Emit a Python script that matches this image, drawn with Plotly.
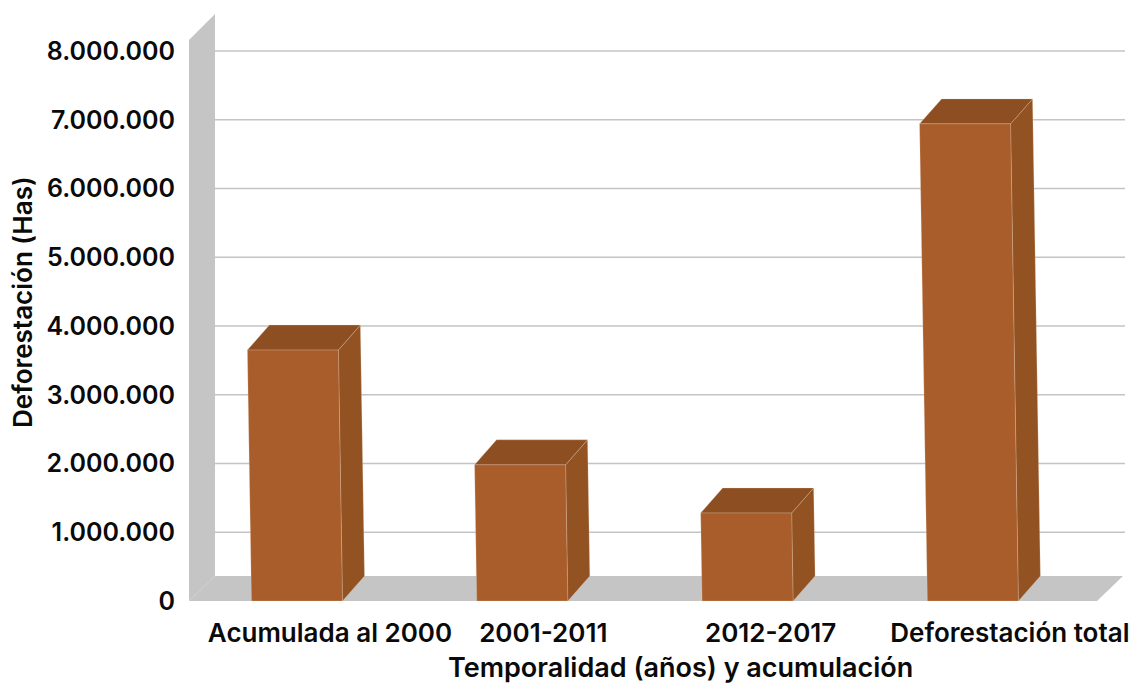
import plotly.graph_objects as go

categories = ["Acumulada al 2000", "2001-2011", "2012-2017", "Deforestación total"]
values = [3650000, 1980000, 1280000, 6940000]
y_ticks = [0, 1000000, 2000000, 3000000, 4000000, 5000000, 6000000, 7000000, 8000000]
y_labels = ["0", "1.000.000", "2.000.000", "3.000.000", "4.000.000", "5.000.000", "6.000.000", "7.000.000", "8.000.000"]

FRONT, SIDE, TOP = "#A85D2A", "#925222", "#8D4F21"
WALL, GRID = "#C5C5C5", "#C4C4C4"
EDGE = "rgba(240,215,195,0.25)"
FONT = "Inter"
WEIGHT = 600
INK = "#0A0A0A"

W, H = 1135, 684
L, R, T, B = 189, 10, 10, 83
PX_PER_CAT = 225.3
PX_PER_UNIT = 68.75 / 1e6
X0_PX = 297 - L
XMIN = -X0_PX / PX_PER_CAT
XMAX = XMIN + (W - L - R) / PX_PER_CAT
YMAX = (H - B - T) / PX_PER_UNIT


def dx(px):
    return px / PX_PER_CAT


def dy(px):
    return px / PX_PER_UNIT


def poly(xs, ys, color, edge=None):
    return go.Scatter(
        x=xs + xs[:1], y=ys + ys[:1], mode="lines", fill="toself", fillcolor=color,
        line=dict(color=edge or color, width=1 if edge else 0),
        hoverinfo="skip", showlegend=False,
    )


fig = go.Figure()

# Chart box: side wall and floor
fig.add_trace(poly([XMIN, XMIN + dx(26), XMIN + dx(26), XMIN],
                   [dy(561), dy(587), dy(25), 0], WALL))
fig.add_trace(poly([XMIN, XMIN + dx(908), XMIN + dx(934), XMIN + dx(26)],
                   [0, 0, dy(25), dy(25)], WALL))

BAR_W = dx(91)
DEPTH_X, DEPTH_Y = dx(22), dy(25)
SKEW_PER_UNIT = dx(1.13) / 1e6

# Real bars carry the values; the polygons add the slanted 3-D faces
positions = list(range(len(values)))
core = [BAR_W - SKEW_PER_UNIT * v for v in values]
fig.add_trace(go.Bar(
    x=[p - SKEW_PER_UNIT * v / 2 for p, v in zip(positions, values)],
    y=values, width=core, marker=dict(color=FRONT, line=dict(width=0)),
    customdata=categories, hovertemplate="%{customdata}: %{y}<extra></extra>",
    showlegend=False,
))

for p, v in zip(positions, values):
    skew = SKEW_PER_UNIT * v
    bl, br = p - BAR_W / 2, p + BAR_W / 2
    tl, tr = bl - skew, br - skew
    fig.add_trace(poly([br, tr, tr + DEPTH_X, br + DEPTH_X],
                       [0, v, v + DEPTH_Y, DEPTH_Y], SIDE, EDGE))
    fig.add_trace(poly([tl, tl + DEPTH_X, tr + DEPTH_X, tr],
                       [v, v + DEPTH_Y, v + DEPTH_Y, v], TOP, EDGE))
    fig.add_trace(poly([bl, tl, tr, br], [0, v, v, 0], FRONT, EDGE))

grid_shapes = [
    dict(type="line", layer="below", xref="x", yref="y",
         x0=XMIN + dx(26), x1=XMAX, y0=t, y1=t, line=dict(color=GRID, width=1.5))
    for t in y_ticks[1:]
]

label_shift = [33, 21, 23, 37]
x_title = "Temporalidad (años) y acumulación"
y_title = "Deforestación (Has)"


def text_font(size):
    return dict(family=FONT, size=size, color=INK, weight=WEIGHT)


fig.update_layout(
    width=W, height=H, autosize=False,
    margin=dict(l=L, r=R, t=T, b=B, autoexpand=False),
    paper_bgcolor="white", plot_bgcolor="white",
    showlegend=False, shapes=grid_shapes, barmode="overlay",
    xaxis=dict(
        range=[XMIN, XMAX], showgrid=False, zeroline=False, showline=False, ticks="",
        automargin=False, tickmode="array",
        tickvals=[p + dx(s) for p, s in zip(positions, label_shift)],
        ticktext=categories, tickangle=0, ticklabelstandoff=14,
        tickfont=text_font(26),
    ),
    yaxis=dict(
        range=[0, YMAX], showgrid=False, zeroline=False, showline=False, ticks="",
        automargin=False, tickmode="array", tickvals=y_ticks, ticktext=y_labels,
        ticklabelstandoff=13, tickfont=text_font(25),
    ),
    annotations=[
        dict(text=x_title, xref="paper", yref="paper",
             x=(680 - L) / (W - L - R), y=-(667 - (H - B)) / (H - B - T),
             xanchor="center", yanchor="middle", showarrow=False, font=text_font(27)),
        dict(text=y_title, xref="paper", yref="paper", textangle=-90,
             x=(22 - L) / (W - L - R), y=(H - B - 302) / (H - B - T),
             xanchor="center", yanchor="middle", showarrow=False, font=text_font(26)),
    ],
)

fig.write_html("out.html", post_script="document.body.style.margin='0';",
               config={"displayModeBar": False})
